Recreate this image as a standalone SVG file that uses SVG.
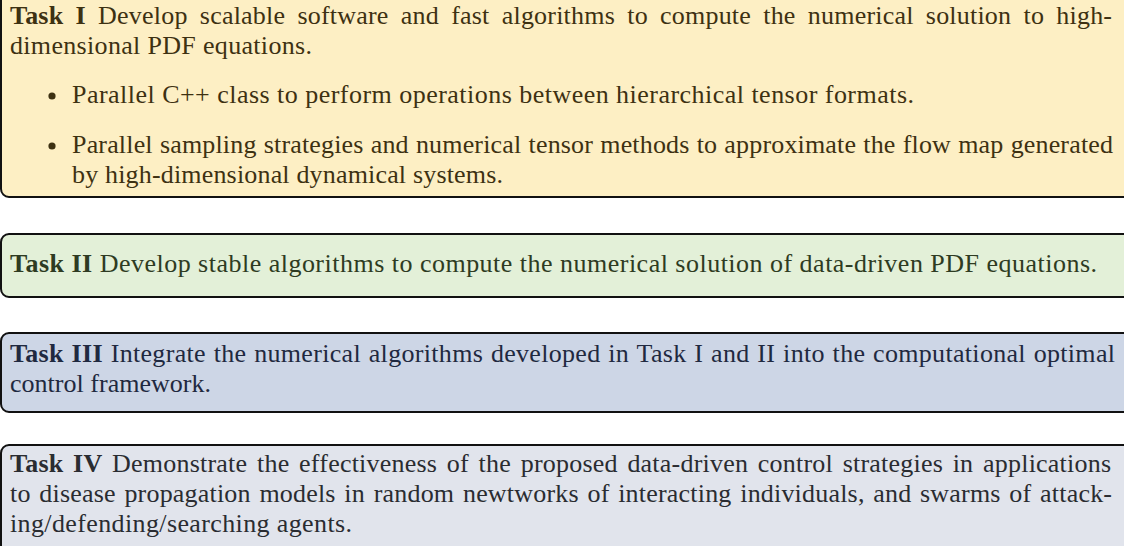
<svg xmlns="http://www.w3.org/2000/svg" width="1124" height="546" viewBox="0 0 1124 546">
  <style>
    text { font-family: "Liberation Serif", "Times New Roman", serif; font-size: 26px; }
    .b { font-weight: bold; }
    .box { stroke: #111; stroke-width: 2; }
    #task1 .box { fill: #fdefc4; }
    #task1 text, #task1 circle { fill: #3d3112; }
    #task2 .box { fill: #e3f0d8; }
    #task2 text { fill: #2e3b22; }
    #task3 .box { fill: #cdd6e6; }
    #task3 text { fill: #1f2940; }
    #task4 .box { fill: #e1e4ec; }
    #task4 text { fill: #2a2c31; }
  </style>
  <rect width="1124" height="546" fill="#ffffff"/>

  <!-- Task I: software and algorithms -->
  <g id="task1">
    <rect class="box" x="1" y="-20" width="1140" height="217" rx="8"/>
    <text x="10" y="24" textLength="1102" lengthAdjust="spacing" word-spacing="5.5"><tspan class="b">Task I</tspan> Develop scalable software and fast algorithms to compute the numerical solution to high-</text>
    <text x="10" y="54" textLength="302" lengthAdjust="spacing">dimensional PDF equations.</text>
    <circle cx="52" cy="96" r="3.6"/>
    <text x="72" y="103" textLength="842" lengthAdjust="spacing">Parallel C++ class to perform operations between hierarchical tensor formats.</text>
    <circle cx="52" cy="146" r="3.6"/>
    <text x="72" y="153" textLength="1041" lengthAdjust="spacing" word-spacing="0.5">Parallel sampling strategies and numerical tensor methods to approximate the flow map generated</text>
    <text x="72" y="183" textLength="431" lengthAdjust="spacing">by high-dimensional dynamical systems.</text>
  </g>

  <!-- Task II: data-driven PDF solvers -->
  <g id="task2">
    <rect class="box" x="1" y="234" width="1140" height="63" rx="8"/>
    <text x="10" y="272" textLength="1087" lengthAdjust="spacing"><tspan class="b">Task II</tspan> Develop stable algorithms to compute the numerical solution of data-driven PDF equations.</text>
  </g>

  <!-- Task III: optimal control integration -->
  <g id="task3">
    <rect class="box" x="1" y="333" width="1140" height="79" rx="8"/>
    <text x="10" y="362" textLength="1105" lengthAdjust="spacing" word-spacing="1"><tspan class="b">Task III</tspan> Integrate the numerical algorithms developed in Task I and II into the computational optimal</text>
    <text x="10" y="392" textLength="201" lengthAdjust="spacing">control framework.</text>
  </g>

  <!-- Task IV: applications -->
  <g id="task4">
    <rect class="box" x="1" y="445" width="1140" height="120" rx="8"/>
    <text x="10" y="472" textLength="1101" lengthAdjust="spacing" word-spacing="3"><tspan class="b">Task IV</tspan> Demonstrate the effectiveness of the proposed data-driven control strategies in applications</text>
    <text x="10" y="502" textLength="1102" lengthAdjust="spacing" word-spacing="2">to disease propagation models in random newtworks of interacting individuals, and swarms of attack-</text>
    <text x="10" y="532" textLength="342" lengthAdjust="spacing">ing/defending/searching agents.</text>
  </g>
</svg>
